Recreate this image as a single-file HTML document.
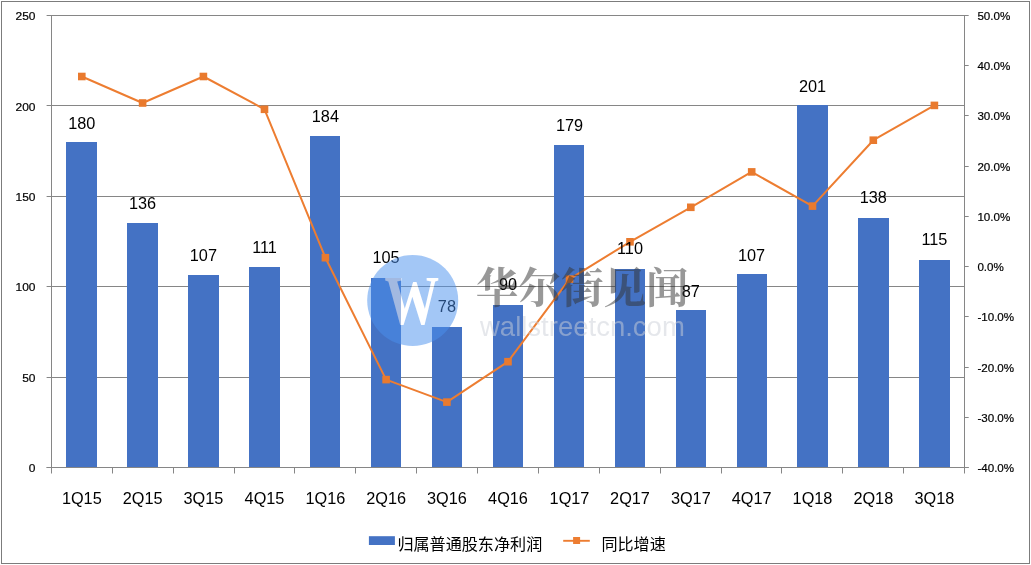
<!DOCTYPE html>
<html><head><meta charset="utf-8"><title>chart</title>
<style>
html,body{margin:0;padding:0;background:#fff;}
body{width:1031px;height:565px;overflow:hidden;}
svg{display:block;}
text{font-family:"Liberation Sans","Noto Sans CJK SC",sans-serif;fill:#000;}
.ax.l{font-size:11.2px;stroke:#000;stroke-width:0.2px;}
.ax.r{font-size:11.6px;stroke:#000;stroke-width:0.2px;}
.dl{font-size:16.3px;}
.lg{font-size:16.1px;font-family:"Liberation Sans","Noto Sans CJK SC",sans-serif;}
.wv{font-family:"Liberation Serif",serif;font-weight:bold;}
.wt{font-family:"Liberation Serif","Noto Serif CJK SC",serif;font-weight:700;}
.wu{font-family:"Liberation Sans",sans-serif;}
</style></head><body>
<svg width="1031" height="565" viewBox="0 0 1031 565">
<rect x="0" y="0" width="1031" height="565" fill="#fff"/>
<rect x="1.5" y="1.5" width="1028" height="562" fill="none" stroke="#7c7c7c" stroke-width="1"/>
<line x1="46.6" y1="15.5" x2="964.4" y2="15.5" stroke="#868686" stroke-width="1"/>
<line x1="46.6" y1="105.5" x2="964.4" y2="105.5" stroke="#868686" stroke-width="1"/>
<line x1="46.6" y1="196.5" x2="964.4" y2="196.5" stroke="#868686" stroke-width="1"/>
<line x1="46.6" y1="286.5" x2="964.4" y2="286.5" stroke="#868686" stroke-width="1"/>
<line x1="46.6" y1="377.5" x2="964.4" y2="377.5" stroke="#868686" stroke-width="1"/>
<line x1="46.6" y1="467.5" x2="964.4" y2="467.5" stroke="#868686" stroke-width="1"/>
<rect x="66" y="142.0" width="31" height="325.5" fill="#4472C4"/>
<rect x="127" y="223.0" width="31" height="244.5" fill="#4472C4"/>
<rect x="188" y="275.0" width="31" height="192.5" fill="#4472C4"/>
<rect x="249" y="267.0" width="31" height="200.5" fill="#4472C4"/>
<rect x="310" y="136.0" width="30" height="331.5" fill="#4472C4"/>
<rect x="371" y="278.0" width="30" height="189.5" fill="#4472C4"/>
<rect x="432" y="327.0" width="30" height="140.5" fill="#4472C4"/>
<rect x="493" y="305.0" width="30" height="162.5" fill="#4472C4"/>
<rect x="554" y="145.0" width="30" height="322.5" fill="#4472C4"/>
<rect x="615" y="269.0" width="30" height="198.5" fill="#4472C4"/>
<rect x="676" y="310.0" width="30" height="157.5" fill="#4472C4"/>
<rect x="737" y="274.0" width="30" height="193.5" fill="#4472C4"/>
<rect x="797" y="105.0" width="31" height="362.5" fill="#4472C4"/>
<rect x="858" y="218.0" width="31" height="249.5" fill="#4472C4"/>
<rect x="919" y="260.0" width="31" height="207.5" fill="#4472C4"/>
<line x1="51.5" y1="15.0" x2="51.5" y2="468.0" stroke="#868686"/>
<line x1="964.5" y1="15.0" x2="964.5" y2="468.0" stroke="#868686"/>
<line x1="46.6" y1="467.5" x2="968.6999999999999" y2="467.5" stroke="#868686"/>
<line x1="51.5" y1="467.5" x2="51.5" y2="473.5" stroke="#868686"/>
<line x1="112.5" y1="467.5" x2="112.5" y2="473.5" stroke="#868686"/>
<line x1="173.5" y1="467.5" x2="173.5" y2="473.5" stroke="#868686"/>
<line x1="234.5" y1="467.5" x2="234.5" y2="473.5" stroke="#868686"/>
<line x1="294.5" y1="467.5" x2="294.5" y2="473.5" stroke="#868686"/>
<line x1="355.5" y1="467.5" x2="355.5" y2="473.5" stroke="#868686"/>
<line x1="416.5" y1="467.5" x2="416.5" y2="473.5" stroke="#868686"/>
<line x1="477.5" y1="467.5" x2="477.5" y2="473.5" stroke="#868686"/>
<line x1="538.5" y1="467.5" x2="538.5" y2="473.5" stroke="#868686"/>
<line x1="599.5" y1="467.5" x2="599.5" y2="473.5" stroke="#868686"/>
<line x1="660.5" y1="467.5" x2="660.5" y2="473.5" stroke="#868686"/>
<line x1="721.5" y1="467.5" x2="721.5" y2="473.5" stroke="#868686"/>
<line x1="781.5" y1="467.5" x2="781.5" y2="473.5" stroke="#868686"/>
<line x1="842.5" y1="467.5" x2="842.5" y2="473.5" stroke="#868686"/>
<line x1="903.5" y1="467.5" x2="903.5" y2="473.5" stroke="#868686"/>
<line x1="964.5" y1="467.5" x2="964.5" y2="473.5" stroke="#868686"/>
<line x1="964.4" y1="15.5" x2="968.6999999999999" y2="15.5" stroke="#868686"/>
<text x="977.4" y="20.0" class="ax r">50.0%</text>
<line x1="964.4" y1="65.5" x2="968.6999999999999" y2="65.5" stroke="#868686"/>
<text x="977.4" y="70.2" class="ax r">40.0%</text>
<line x1="964.4" y1="115.5" x2="968.6999999999999" y2="115.5" stroke="#868686"/>
<text x="977.4" y="120.4" class="ax r">30.0%</text>
<line x1="964.4" y1="166.5" x2="968.6999999999999" y2="166.5" stroke="#868686"/>
<text x="977.4" y="170.7" class="ax r">20.0%</text>
<line x1="964.4" y1="216.5" x2="968.6999999999999" y2="216.5" stroke="#868686"/>
<text x="977.4" y="220.9" class="ax r">10.0%</text>
<line x1="964.4" y1="266.5" x2="968.6999999999999" y2="266.5" stroke="#868686"/>
<text x="977.4" y="271.1" class="ax r">0.0%</text>
<line x1="964.4" y1="316.5" x2="968.6999999999999" y2="316.5" stroke="#868686"/>
<text x="977.4" y="321.3" class="ax r">-10.0%</text>
<line x1="964.4" y1="367.5" x2="968.6999999999999" y2="367.5" stroke="#868686"/>
<text x="977.4" y="371.6" class="ax r">-20.0%</text>
<line x1="964.4" y1="417.5" x2="968.6999999999999" y2="417.5" stroke="#868686"/>
<text x="977.4" y="421.8" class="ax r">-30.0%</text>
<line x1="964.4" y1="467.5" x2="968.6999999999999" y2="467.5" stroke="#868686"/>
<text x="977.4" y="472.0" class="ax r">-40.0%</text>
<text transform="translate(35.5,20.1) scale(1.07,1)" class="ax l" text-anchor="end">250</text>
<text transform="translate(35.5,110.5) scale(1.07,1)" class="ax l" text-anchor="end">200</text>
<text transform="translate(35.5,200.9) scale(1.07,1)" class="ax l" text-anchor="end">150</text>
<text transform="translate(35.5,291.3) scale(1.07,1)" class="ax l" text-anchor="end">100</text>
<text transform="translate(35.5,381.7) scale(1.07,1)" class="ax l" text-anchor="end">50</text>
<text transform="translate(35.5,472.1) scale(1.07,1)" class="ax l" text-anchor="end">0</text>
<polyline points="81.8,76.5 142.6,103.0 203.4,76.5 264.5,109.3 325.4,257.7 386.1,379.6 446.9,402.1 508.0,361.7 569.5,279.1 630.0,241.8 690.8,207.3 751.6,171.9 812.5,206.1 873.3,140.2 934.4,105.4" fill="none" stroke="#ED7D31" stroke-width="2" stroke-linejoin="round"/>
<rect x="78.0" y="72.7" width="7.6" height="7.6" fill="#E97A2E"/>
<rect x="138.8" y="99.2" width="7.6" height="7.6" fill="#E97A2E"/>
<rect x="199.6" y="72.7" width="7.6" height="7.6" fill="#E97A2E"/>
<rect x="260.7" y="105.5" width="7.6" height="7.6" fill="#E97A2E"/>
<rect x="321.6" y="253.9" width="7.6" height="7.6" fill="#E97A2E"/>
<rect x="382.3" y="375.8" width="7.6" height="7.6" fill="#E97A2E"/>
<rect x="443.1" y="398.3" width="7.6" height="7.6" fill="#E97A2E"/>
<rect x="504.2" y="357.9" width="7.6" height="7.6" fill="#E97A2E"/>
<rect x="565.7" y="275.3" width="7.6" height="7.6" fill="#E97A2E"/>
<rect x="626.2" y="238.0" width="7.6" height="7.6" fill="#E97A2E"/>
<rect x="687.0" y="203.5" width="7.6" height="7.6" fill="#E97A2E"/>
<rect x="747.9" y="168.1" width="7.6" height="7.6" fill="#E97A2E"/>
<rect x="808.7" y="202.3" width="7.6" height="7.6" fill="#E97A2E"/>
<rect x="869.5" y="136.4" width="7.6" height="7.6" fill="#E97A2E"/>
<rect x="930.6" y="101.6" width="7.6" height="7.6" fill="#E97A2E"/>
<text x="81.8" y="128.7" class="dl" text-anchor="middle">180</text>
<text x="142.6" y="208.6" class="dl" text-anchor="middle">136</text>
<text x="203.4" y="260.7" class="dl" text-anchor="middle">107</text>
<text x="264.5" y="252.6" class="dl" text-anchor="middle">111</text>
<text x="325.4" y="121.5" class="dl" text-anchor="middle">184</text>
<text x="386.1" y="263.4" class="dl" text-anchor="middle">105</text>
<text x="446.9" y="312.2" class="dl" text-anchor="middle">78</text>
<text x="508.0" y="290.4" class="dl" text-anchor="middle">90</text>
<text x="569.5" y="130.8" class="dl" text-anchor="middle">179</text>
<text x="630.0" y="254.4" class="dl" text-anchor="middle">110</text>
<text x="690.8" y="296.6" class="dl" text-anchor="middle">87</text>
<text x="751.6" y="260.7" class="dl" text-anchor="middle">107</text>
<text x="812.5" y="91.5" class="dl" text-anchor="middle">201</text>
<text x="873.3" y="203.4" class="dl" text-anchor="middle">138</text>
<text x="934.4" y="245.2" class="dl" text-anchor="middle">115</text>
<text x="81.8" y="503.6" class="dl" text-anchor="middle">1Q15</text>
<text x="142.6" y="503.6" class="dl" text-anchor="middle">2Q15</text>
<text x="203.4" y="503.6" class="dl" text-anchor="middle">3Q15</text>
<text x="264.5" y="503.6" class="dl" text-anchor="middle">4Q15</text>
<text x="325.4" y="503.6" class="dl" text-anchor="middle">1Q16</text>
<text x="386.1" y="503.6" class="dl" text-anchor="middle">2Q16</text>
<text x="446.9" y="503.6" class="dl" text-anchor="middle">3Q16</text>
<text x="508.0" y="503.6" class="dl" text-anchor="middle">4Q16</text>
<text x="569.5" y="503.6" class="dl" text-anchor="middle">1Q17</text>
<text x="630.0" y="503.6" class="dl" text-anchor="middle">2Q17</text>
<text x="690.8" y="503.6" class="dl" text-anchor="middle">3Q17</text>
<text x="751.6" y="503.6" class="dl" text-anchor="middle">4Q17</text>
<text x="812.5" y="503.6" class="dl" text-anchor="middle">1Q18</text>
<text x="873.3" y="503.6" class="dl" text-anchor="middle">2Q18</text>
<text x="934.4" y="503.6" class="dl" text-anchor="middle">3Q18</text>
<rect x="368.9" y="536.2" width="26" height="8.8" fill="#4472C4"/>
<text x="397.4" y="549.9" class="lg">归属普通股东净利润</text>
<line x1="563.2" y1="540.8" x2="589.8" y2="540.8" stroke="#ED7D31" stroke-width="1.9"/>
<rect x="573.1" y="537" width="7" height="7" fill="#ED7D31"/>
<text x="601.4" y="549.9" class="lg">同比增速</text>
<g opacity="0.5">
<circle cx="412.7" cy="300.5" r="45.5" fill="#4a90ee"/>
<text transform="translate(411.8,323.5) scale(0.78,1)" class="wv" font-size="70" text-anchor="middle" style="fill:#fff">W</text>
<text x="475.8" y="303" class="wt" font-size="42.6" style="fill:#333">华尔街见闻</text>
<text x="480" y="336" class="wu" font-size="27.5" style="fill:#ccd0d9">wallstreetcn.com</text>
</g>
</svg>
</body></html>
